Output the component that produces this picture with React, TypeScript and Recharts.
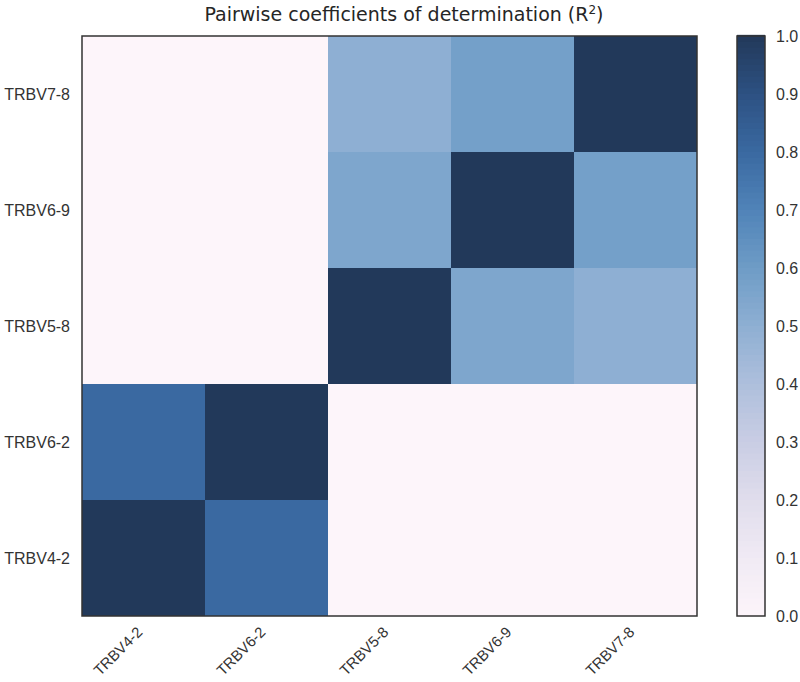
import { ComposedChart, XAxis, YAxis, ReferenceArea } from 'recharts';

const genes = ['TRBV4-2', 'TRBV6-2', 'TRBV5-8', 'TRBV6-9', 'TRBV7-8'];

// rows listed bottom to top, columns left to right
const rowTRBV4_2 = [1.0, 0.8, 0.0, 0.0, 0.0];
const rowTRBV6_2 = [0.8, 1.0, 0.0, 0.0, 0.0];
const rowTRBV5_8 = [0.0, 0.0, 1.0, 0.55, 0.5];
const rowTRBV6_9 = [0.0, 0.0, 0.55, 1.0, 0.58];
const rowTRBV7_8 = [0.0, 0.0, 0.5, 0.58, 1.0];
const r2Rows = [rowTRBV4_2, rowTRBV6_2, rowTRBV5_8, rowTRBV6_9, rowTRBV7_8];

const cbarTicks = [0, 0.1, 0.2, 0.3, 0.4, 0.5, 0.6, 0.7, 0.8, 0.9, 1.0];
const cmapStops = ['#fdf5fa', '#f0eaf4', '#e0ddec', '#c9cde4', '#aebfdc', '#8eafd3', '#6e9cc6', '#5083b8', '#3a69a1', '#2d5182', '#22395a'];

const hexToRgb = (h: string) => [1, 3, 5].map((i) => parseInt(h.slice(i, i + 2), 16));

function cmap(v: number) {
  const t = Math.max(0, Math.min(1, v)) * (cmapStops.length - 1);
  const i = Math.min(Math.floor(t), cmapStops.length - 2);
  const f = t - i;
  const a = hexToRgb(cmapStops[i]);
  const b = hexToRgb(cmapStops[i + 1]);
  const c = a.map((x, k) => Math.round(x + (b[k] - x) * f));
  return `rgb(${c[0]},${c[1]},${c[2]})`;
}

// colorbar drawn as thin bands
const cbarSteps = 100;
const cbarBands = Array.from({ length: cbarSteps }, (_, i) => i / cbarSteps);

const centers = genes.map((_, i) => i + 0.5);
const labelFont = 'Arial, "Liberation Sans", sans-serif';

const XTick = (props: any) => {
  const { x, y, payload } = props;
  const label = genes[Math.floor(payload.value)];
  const ty = y + 17;
  return (
    <text x={x} y={ty} transform={`rotate(-45 ${x} ${ty})`} textAnchor="end" fontSize={15} fill="#333" fontFamily={labelFont}>
      {label}
    </text>
  );
};

export default function App() {
  return (
    <div style={{ position: 'absolute', left: 0, top: 0, width: 800, height: 682, background: '#fff', overflow: 'hidden' }}>
      <div
        style={{
          position: 'absolute',
          left: 0,
          top: 1,
          width: 800,
          textAlign: 'center',
          fontFamily: '"DejaVu Sans", sans-serif',
          fontSize: 19,
          lineHeight: '26px',
          color: '#262626',
          paddingLeft: 4,
        }}
      >
        Pairwise coefficients of determination (R<sup style={{ fontSize: 12, lineHeight: 0 }}>2</sup>)
      </div>

      {/* heatmap */}
      <div style={{ position: 'absolute', left: 0, top: 0 }}>
        <ComposedChart width={720} height={682} margin={{ top: 36, right: 23, bottom: 0, left: 0 }}>
          <XAxis
            type="number"
            dataKey="x"
            domain={[0, 5]}
            ticks={centers}
            interval={0}
            height={66}
            axisLine={false}
            tickLine={false}
            tickSize={0}
            tickMargin={0}
            tick={<XTick />}
            allowDataOverflow
          />
          <YAxis
            type="number"
            dataKey="y"
            domain={[0, 5]}
            ticks={centers}
            interval={0}
            width={82}
            axisLine={false}
            tickLine={false}
            tickSize={0}
            tickMargin={12}
            tickFormatter={(v: number) => genes[Math.floor(v)]}
            tick={{ fontSize: 16, fill: '#333', fontFamily: labelFont }}
            allowDataOverflow
          />
          {r2Rows.map((row, j) =>
            row.map((v, i) => (
              <ReferenceArea
                key={`c-${j}-${i}`}
                x1={i}
                x2={i + 1}
                y1={j}
                y2={j + 1}
                fill={cmap(v)}
                fillOpacity={1}
                stroke="none"
                ifOverflow="visible"
              />
            ))
          )}
          <ReferenceArea x1={0} x2={5} y1={0} y2={5} fill="none" stroke="#333" strokeWidth={1.5} ifOverflow="visible" />
        </ComposedChart>
      </div>

      {/* colorbar */}
      <div style={{ position: 'absolute', left: 700, top: 0 }}>
        <ComposedChart width={100} height={682} margin={{ top: 36, right: 0, bottom: 66, left: 37 }}>
          <XAxis type="number" dataKey="x" domain={[0, 1]} hide allowDataOverflow />
          <YAxis
            type="number"
            dataKey="y"
            orientation="right"
            domain={[0, 1]}
            ticks={cbarTicks}
            interval={0}
            width={35}
            axisLine={false}
            tickLine={false}
            tickSize={0}
            tickMargin={11}
            tickFormatter={(v: number) => v.toFixed(1)}
            tick={{ fontSize: 16, fill: '#333', fontFamily: labelFont }}
            allowDataOverflow
          />
          {cbarBands.map((v) => (
            <ReferenceArea
              key={`b-${v}`}
              x1={0}
              x2={1}
              y1={v}
              y2={v + 1 / cbarSteps + 0.002}
              fill={cmap(v + 0.5 / cbarSteps)}
              fillOpacity={1}
              stroke="none"
              ifOverflow="visible"
            />
          ))}
          <ReferenceArea x1={0} x2={1} y1={0} y2={1} fill="none" stroke="#333" strokeWidth={1.5} ifOverflow="visible" />
        </ComposedChart>
      </div>
    </div>
  );
}
